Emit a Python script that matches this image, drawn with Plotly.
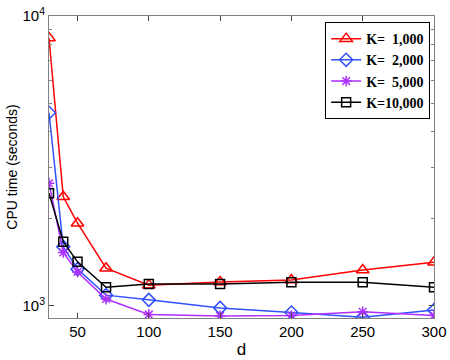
import plotly.graph_objects as go

# d values and CPU time (seconds) for each K
d = [30, 40, 50, 70, 100, 150, 200, 250, 300]
k1000 = [8400, 2380, 1930, 1350, 1180, 1210, 1230, 1330, 1415]
k2000 = [4640, 1600, 1340, 1090, 1050, 985, 950, 915, 968]
k5000 = [2650, 1530, 1310, 1057, 935, 924, 927, 955, 927]
k10000 = [2450, 1667, 1420, 1160, 1190, 1190, 1207, 1207, 1160]

names = ['K=\u00a0\u00a01,000', 'K=\u00a0\u00a02,000', 'K=\u00a0\u00a05,000', 'K=10,000']
colors = ['#ff0000', '#3050ff', '#b030ff', '#000000']
symbols = ['triangle-up-open', 'diamond-open', 'asterisk-open', 'square-open']
sizes = [11, 10, 9, 9]

fig = go.Figure()
for ys, name, c, s, sz in zip([k1000, k2000, k5000, k10000], names, colors, symbols, sizes):
    fig.add_trace(go.Scatter(
        x=d, y=ys, name=name, mode='lines+markers',
        line=dict(color=c, width=1.5),
        marker=dict(symbol=s, size=sz, color=c, line=dict(color=c, width=1.5))
    ))

fig.update_layout(
    width=450, height=360,
    margin=dict(l=49, r=16, t=16, b=42),
    plot_bgcolor='white', paper_bgcolor='white',
    font=dict(family='Liberation Sans, Arial', size=15, color='black'),
    legend=dict(
        x=0.99, y=0.98, xanchor='right', yanchor='top',
        bgcolor='white', bordercolor='black', borderwidth=1,
        font=dict(family='Liberation Serif', size=14, color='black', weight='bold'),
        tracegroupgap=0, itemwidth=30
    ),
    xaxis=dict(
        range=[30, 300], tickvals=[50, 100, 150, 200, 250, 300],
        ticks='inside', ticklen=5, mirror='ticks', showline=True,
        linecolor='#808080', linewidth=1, showgrid=False, zeroline=False,
        automargin=False,
        title=dict(text='d', font=dict(size=17), standoff=4)
    ),
    yaxis=dict(
        type='log', range=[2.9586, 4.0], tickvals=[1000, 10000],
        ticktext=['10<sup>3</sup>', '10<sup>4</sup>'],
        ticks='inside', ticklen=5, mirror='ticks', showline=True,
        linecolor='#808080', linewidth=1, showgrid=False, zeroline=False,
        automargin=False,
        minor=dict(tickvals=[2000, 3000, 4000, 5000, 6000, 7000, 8000, 9000],
                   ticks='inside', ticklen=3, tickcolor='#808080'),
        title=dict(text='CPU time (seconds)', font=dict(size=14), standoff=1)
    )
)

# drop the default 8px page margin so the figure sits at the window corner
fig.write_html('out.html', config={'displayModeBar': False},
               post_script="document.body.style.margin='0';")
